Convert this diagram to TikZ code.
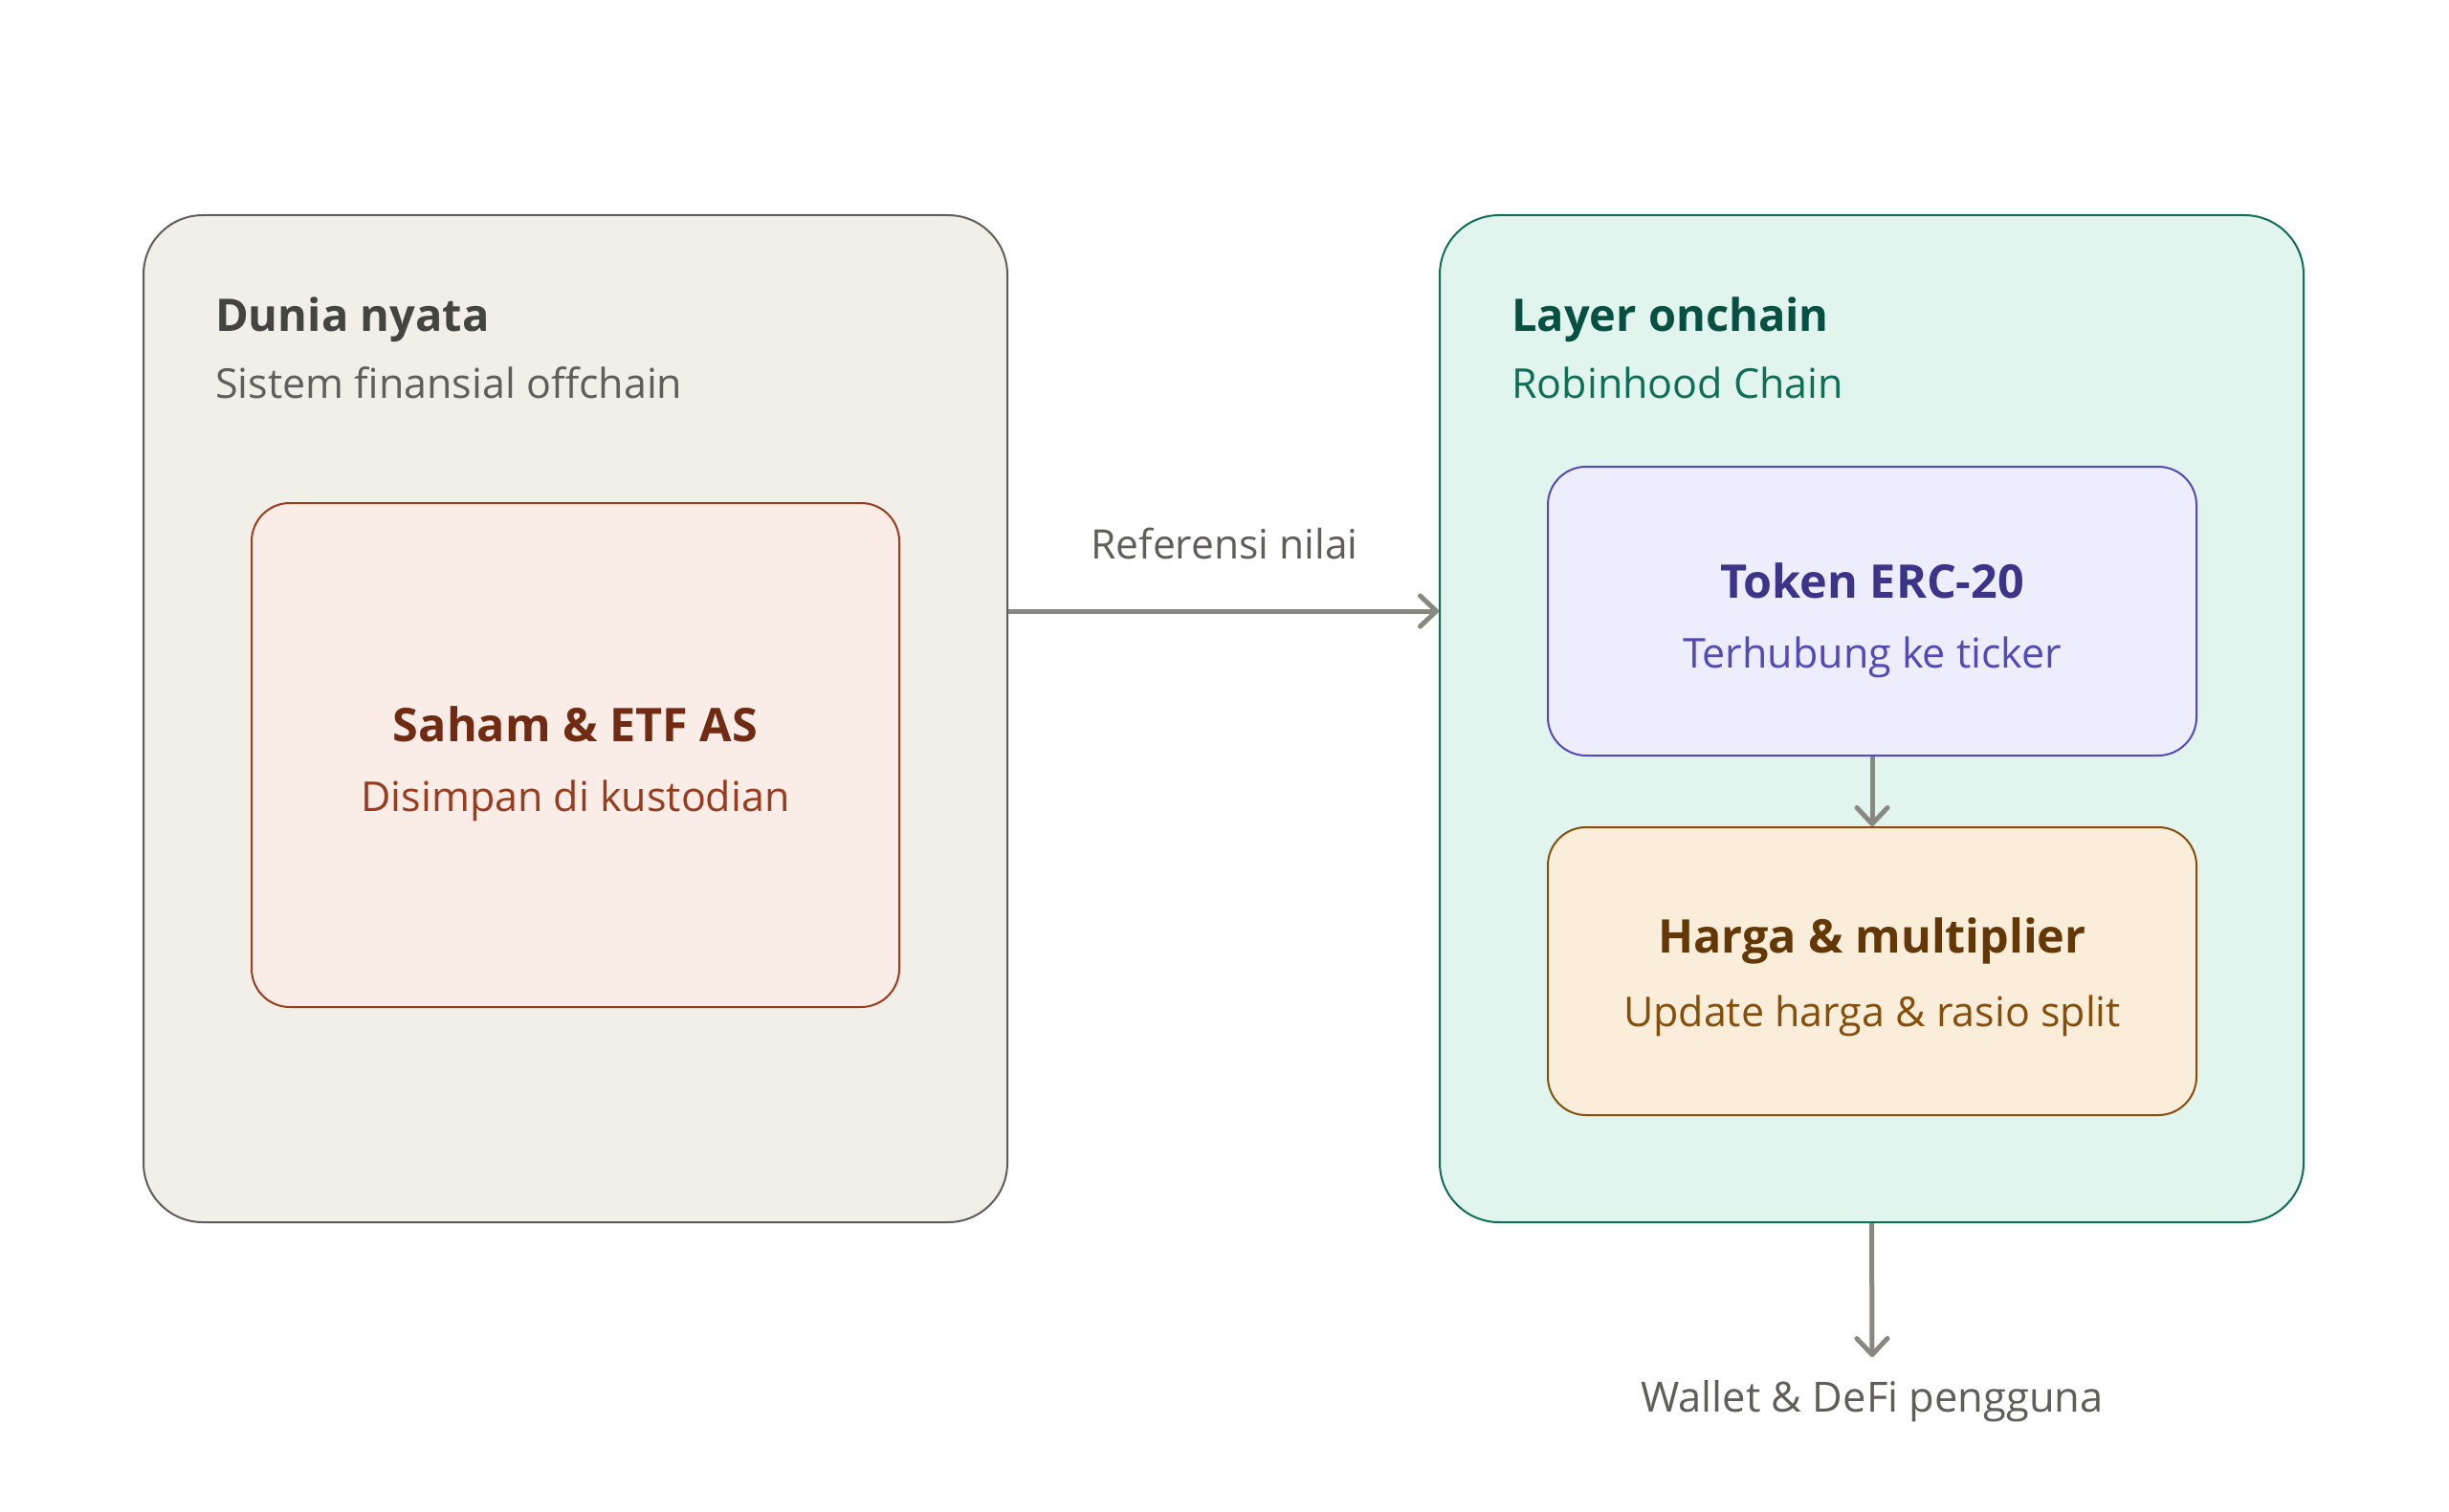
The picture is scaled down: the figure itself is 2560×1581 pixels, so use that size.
\documentclass[tikz,border=0pt]{standalone}
\usepackage{fontspec}
\setmainfont{Open Sans}
\usetikzlibrary{arrows.meta}

\definecolor{realfill}{HTML}{F1EFE8}
\definecolor{realline}{HTML}{5F5E5A}
\definecolor{realhead}{HTML}{444441}
\definecolor{chainfill}{HTML}{E1F5EE}
\definecolor{chainline}{HTML}{0F6E56}
\definecolor{chainhead}{HTML}{085041}
\definecolor{stockfill}{HTML}{FAECE7}
\definecolor{stockline}{HTML}{993C1D}
\definecolor{stockhead}{HTML}{712B13}
\definecolor{tokenfill}{HTML}{EEEDFE}
\definecolor{tokenline}{HTML}{534AB7}
\definecolor{tokenhead}{HTML}{3C3489}
\definecolor{pricefill}{HTML}{FAEEDA}
\definecolor{priceline}{HTML}{854F0B}
\definecolor{pricehead}{HTML}{633806}
\definecolor{flowcolor}{HTML}{888780}

\tikzset{
  layerbox/.style={draw, line width=2pt, rounded corners=62pt, inner sep=0pt,
    minimum width=903pt, minimum height=1053pt},
  itembox/.style={draw, line width=2pt, rounded corners=40pt, inner sep=0pt,
    minimum width=678pt},
  headtext/.style={font=\fontsize{47}{56}\selectfont\bfseries, anchor=west, inner sep=0pt},
  subtext/.style={font=\fontsize{43}{50}\selectfont, anchor=west, inner sep=0pt},
  itemhead/.style={font=\fontsize{48.5}{58}\selectfont\bfseries, inner sep=0pt},
  itemsub/.style={font=\fontsize{43}{50}\selectfont, inner sep=0pt},
  plaintext/.style={font=\fontsize{43.5}{50}\selectfont, text=realline, inner sep=0pt},
  flow/.style={draw=flowcolor, line width=5pt,
    -{Straight Barb[length=17pt,width=32pt,round]}}
}

\begin{document}
\begin{tikzpicture}[x=1pt,y=-1pt]
\useasboundingbox[fill=white] (0,0) rectangle (2560,1581);

% dunia nyata
\node[layerbox, fill=realfill, draw=realline] (dunia) at (601.5,751.5) {};
\node[headtext, text=realhead] (duniahead) at (225,334) {Dunia nyata};
\node[subtext, text=realline] (duniasub) at (225,400) {Sistem finansial offchain};
\node[itembox, fill=stockfill, draw=stockline, minimum width=677pt, minimum height=527pt] (saham) at (601.5,789.5) {};
\node[itemhead, text=stockhead] (sahamhead) at (601.5,757) {Saham \& ETF AS};
\node[itemsub, text=stockline] (sahamsub) at (601.5,837) {Disimpan di kustodian};

% layer onchain
\node[layerbox, fill=chainfill, draw=chainline] (onchain) at (1956.5,751.5) {};
\node[headtext, text=chainhead] (onchainhead) at (1580,334) {Layer onchain};
\node[subtext, text=chainline] (onchainsub) at (1580,400) {Robinhood Chain};
\node[itembox, fill=tokenfill, draw=tokenline, minimum height=302pt] (token) at (1957,639) {};
\node[itemhead, text=tokenhead] (tokenhead) at (1957,607) {Token ERC-20};
\node[itemsub, text=tokenline] (tokensub) at (1957,687) {Terhubung ke ticker};
\node[itembox, fill=pricefill, draw=priceline, minimum height=301pt] (harga) at (1957,1015.5) {};
\node[itemhead, text=pricehead] (hargahead) at (1957,984) {Harga \& multiplier};
\node[itemsub, text=priceline] (hargasub) at (1957,1062) {Update harga \& rasio split};

% connectors
\node[plaintext, font=\fontsize{42.5}{50}\selectfont] (referensi) at (1280,568) {Referensi nilai};
\node[plaintext, inner sep=0pt] (wallet) at (1957,1465) {Wallet \& DeFi pengguna};
\draw[flow] (token.west -| dunia.east) -- (token.west -| onchain.west);
\draw[flow] (token.south) -- (harga.north);
\draw[flow] (onchain.south) -- ([yshift=24pt]wallet.north);
\end{tikzpicture}
\end{document}
